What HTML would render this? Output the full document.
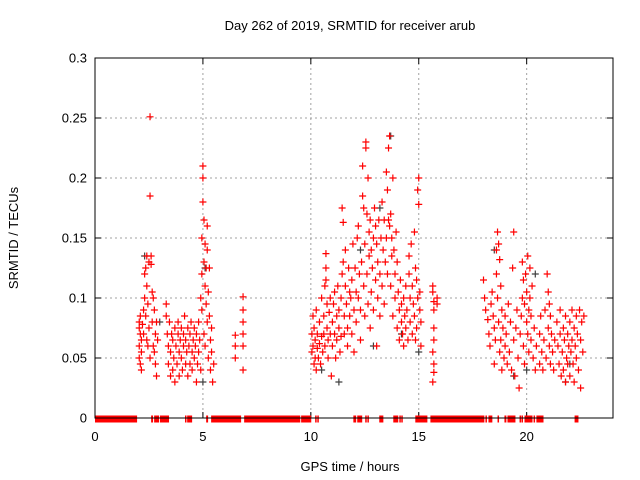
<!DOCTYPE html>
<html><head><meta charset="utf-8">
<style>html,body{margin:0;padding:0;background:#fff}svg{display:block;font-family:"Liberation Sans",sans-serif}</style>
</head><body>
<svg id="chart" width="640" height="480" viewBox="0 0 640 480">
<rect width="640" height="480" fill="#fff"/>
<text x="350" y="30" font-size="13" text-anchor="middle">Day 262 of 2019, SRMTID for receiver arub</text>
<text transform="translate(18,238) rotate(-90)" font-size="13" text-anchor="middle">SRMTID / TECUs</text>
<text x="350" y="471" font-size="13" text-anchor="middle">GPS time / hours</text>
<g id="grid"></g><g id="ticks"></g><g id="marks"></g>
<rect x="95" y="58" width="518" height="360" fill="none" stroke="#000" stroke-width="1"/>
</svg>
<script>
const xTicks = [0,5,10,15,20];
const yTicks = [0,0.05,0.1,0.15,0.2,0.25,0.3];
const yTickLabels = ["0","0.05","0.1","0.15","0.2","0.25","0.3"];
const zeroRanges = [[0,1.95],[2.6,2.69],[2.74,2.97],[3.01,3.43],[4.17,4.22],[4.27,4.5],[5.15,5.24],[5.38,6.77],[6.91,9.51],[9.55,10.02],[10.2,10.2],[10.3,10.3],[11.97,12.1],[12.15,12.38],[12.52,12.52],[12.62,12.62],[13.17,13.36],[13.82,14.05],[14.1,14.1],[14.19,14.19],[14.84,15.4],[15.54,18.04],[18.09,18.09],[18.23,18.41],[18.65,18.65],[18.97,19.06],[19.11,19.48],[19.67,19.67],[19.76,19.76],[19.9,20.27],[20.32,20.32],[20.45,20.78],[22.22,22.4]];
const blackPts = [[3.0,0.08],[5.1,0.125],[5.0,0.03],[10.5,0.04],[11.3,0.03],[12.9,0.06],[13.7,0.235],[14.2,0.07],[15.0,0.055],[18.5,0.14],[19.4,0.035],[20.0,0.04],[21.8,0.03],[22.0,0.045],[12.3,0.14],[13.2,0.175],[20.4,0.12],[2.3,0.135]];
const redPts = [
[2.05,0.08],[2.05,0.075],[2.05,0.06],[2.05,0.05],[2.1,0.045],[2.1,0.07],[2.1,0.085],[2.15,0.065],[2.15,0.055],[2.15,0.04],[2.2,0.078],[2.25,0.09],[2.25,0.07],[2.3,0.1],[2.3,0.12],[2.35,0.125],[2.35,0.085],[2.4,0.135],[2.4,0.11],[2.4,0.065],[2.45,0.095],[2.45,0.06],[2.5,0.13],[2.5,0.075],[2.55,0.251],[2.55,0.185],[2.55,0.05],[2.6,0.135],[2.6,0.128],[2.65,0.105],[2.65,0.08],[2.7,0.06],[2.7,0.1],[2.75,0.09],[2.75,0.055],[2.8,0.07],[2.8,0.045],[2.85,0.035],[2.85,0.08],[2.9,0.065],
[3.3,0.095],[3.3,0.085],[3.35,0.07],[3.4,0.06],[3.4,0.045],[3.45,0.08],[3.5,0.035],[3.5,0.055],[3.55,0.07],[3.6,0.04],[3.6,0.065],[3.65,0.05],[3.7,0.075],[3.7,0.03],[3.75,0.06],[3.8,0.045],[3.85,0.07],[3.85,0.08],[3.9,0.055],[3.9,0.035],[3.95,0.065],[4.0,0.05],[4.0,0.075],[4.05,0.04],[4.1,0.06],[4.1,0.07],[4.15,0.085],[4.2,0.045],[4.2,0.065],[4.25,0.055],[4.3,0.075],[4.3,0.035],[4.35,0.06],[4.4,0.045],[4.4,0.07],[4.45,0.08],[4.5,0.055],[4.5,0.04],[4.55,0.065],[4.6,0.05],[4.6,0.075],[4.65,0.06],[4.7,0.03],[4.7,0.07],[4.75,0.045],[4.8,0.08],[4.8,0.055],[4.85,0.065],[4.9,0.1],[4.9,0.04],[4.95,0.15],[4.95,0.12],[4.95,0.09],[5.0,0.21],[5.0,0.2],[5.0,0.18],[5.05,0.165],[5.05,0.13],[5.05,0.07],[5.1,0.145],[5.1,0.11],[5.1,0.06],[5.15,0.125],[5.15,0.095],[5.2,0.16],[5.2,0.14],[5.2,0.08],[5.25,0.105],[5.25,0.05],[5.3,0.125],[5.3,0.085],[5.35,0.065],[5.35,0.04],[5.4,0.075],[5.4,0.055],[5.45,0.03],[5.5,0.045],
[6.5,0.069],[6.5,0.06],[6.5,0.05],[6.86,0.101],[6.86,0.09],[6.86,0.08],[6.86,0.07],[6.86,0.06],[6.86,0.04],
[10.05,0.07],[10.05,0.055],[10.1,0.085],[10.1,0.06],[10.15,0.045],[10.15,0.075],[10.2,0.05],[10.2,0.065],[10.25,0.04],[10.25,0.09],[10.3,0.058],[10.3,0.07],[10.35,0.05],[10.4,0.08],[10.4,0.062],[10.45,0.045],[10.5,0.1],[10.5,0.068],
[10.55,0.055],[10.6,0.085],[10.6,0.07],[10.65,0.11],[10.65,0.06],[10.7,0.137],[10.7,0.125],[10.7,0.115],[10.75,0.095],[10.75,0.075],[10.8,0.065],[10.8,0.05],[10.85,0.088],[10.9,0.1],[10.9,0.07],[10.95,0.035],[11.0,0.08],[11.0,0.06],[11.05,0.095],[11.1,0.105],[11.1,0.07],[11.15,0.05],[11.2,0.085],[11.2,0.065],[11.25,0.11],[11.3,0.075],[11.3,0.09],[11.35,0.055],[11.4,0.1],[11.4,0.068],[11.45,0.12],[11.45,0.175],[11.5,0.163],[11.5,0.13],[11.55,0.085],[11.55,0.07],
[11.6,0.11],[11.6,0.14],[11.65,0.095],[11.7,0.075],[11.7,0.06],[11.75,0.125],[11.8,0.105],[11.8,0.085],[11.85,0.1],[11.9,0.07],[11.9,0.115],[11.95,0.145],[12.0,0.09],[12.0,0.055],[12.05,0.125],[12.1,0.105],[12.1,0.08],[12.15,0.15],[12.2,0.1],[12.2,0.16],[12.25,0.12],[12.3,0.09],[12.3,0.065],[12.35,0.13],[12.4,0.185],[12.4,0.21],[12.45,0.175],[12.45,0.11],[12.5,0.145],[12.5,0.085],
[12.55,0.23],[12.55,0.225],[12.6,0.17],[12.6,0.12],[12.65,0.2],[12.65,0.095],[12.7,0.155],[12.7,0.135],[12.75,0.165],[12.75,0.075],[12.8,0.14],[12.8,0.105],[12.85,0.125],[12.9,0.15],[12.9,0.09],[12.95,0.175],[13.0,0.16],[13.0,0.115],[13.05,0.145],[13.05,0.06],[13.1,0.13],[13.1,0.1],[13.15,0.165],[13.2,0.12],[13.2,0.085],[13.25,0.15],[13.3,0.18],[13.3,0.11],[13.35,0.14],[13.4,0.165],[13.4,0.095],[13.45,0.13],[13.5,0.205],[13.5,0.15],
[13.55,0.19],[13.55,0.12],[13.6,0.225],[13.6,0.165],[13.65,0.235],[13.65,0.16],[13.7,0.17],[13.7,0.11],[13.75,0.15],[13.75,0.135],[13.8,0.2],[13.8,0.085],[13.85,0.14],[13.9,0.12],[13.9,0.1],[13.95,0.155],[14.0,0.13],[14.0,0.075],[14.05,0.105],[14.1,0.09],[14.1,0.065],[14.15,0.115],[14.2,0.095],[14.2,0.08],[14.25,0.07],[14.3,0.1],[14.3,0.06],[14.35,0.085],[14.4,0.11],[14.4,0.075],[14.45,0.09],[14.5,0.065],
[14.55,0.135],[14.55,0.12],[14.6,0.1],[14.6,0.08],[14.65,0.145],[14.7,0.11],[14.7,0.07],[14.75,0.095],[14.8,0.155],[14.8,0.085],[14.85,0.125],[14.85,0.065],[14.9,0.115],[14.9,0.075],[14.95,0.19],[14.95,0.1],[15.0,0.2],[15.0,0.178],[15.05,0.105],[15.05,0.09],[15.1,0.08],[15.1,0.06],
[15.65,0.11],[15.65,0.105],[15.7,0.097],[15.7,0.09],[15.7,0.075],[15.7,0.065],[15.65,0.055],[15.7,0.045],[15.7,0.038],[15.65,0.03],[15.85,0.095],[15.85,0.1],
[18.0,0.115],[18.05,0.1],[18.1,0.09],[18.2,0.082],[18.25,0.07],[18.3,0.06],[18.35,0.095],[18.4,0.105],[18.45,0.085],[18.5,0.075],[18.5,0.045],[18.55,0.065],[18.6,0.14],[18.6,0.12],[18.65,0.155],[18.65,0.1],[18.7,0.145],[18.7,0.08],[18.75,0.132],[18.75,0.055],[18.8,0.11],[18.8,0.065],[18.85,0.09],[18.85,0.04],[18.9,0.075],[18.95,0.05],[19.0,0.085],[19.0,0.06],[19.05,0.07],[19.1,0.045],[19.15,0.095],[19.2,0.055],[19.25,0.08],[19.3,0.04],[19.35,0.125],[19.4,0.155],[19.4,0.065],[19.45,0.035],[19.5,0.075],[19.55,0.09],[19.6,0.05],[19.65,0.025],[19.7,0.07],[19.75,0.085],
[19.8,0.13],[19.8,0.1],[19.85,0.115],[19.85,0.06],[19.9,0.095],[19.9,0.045],[19.95,0.12],[20.0,0.105],[20.0,0.08],[20.05,0.135],[20.05,0.07],[20.1,0.09],[20.1,0.055],[20.15,0.125],[20.15,0.1],[20.2,0.085],[20.2,0.065],[20.25,0.11],[20.3,0.05],[20.35,0.075],[20.4,0.04],[20.45,0.06],
[20.6,0.07],[20.6,0.045],[20.65,0.085],[20.7,0.055],[20.75,0.04],[20.8,0.065],[20.85,0.09],[20.9,0.05],[20.95,0.12],[21.0,0.105],[21.0,0.075],[21.05,0.095],[21.05,0.06],[21.1,0.085],[21.1,0.045],[21.15,0.07],[21.2,0.055],[21.25,0.04],[21.3,0.065],
[21.4,0.08],[21.45,0.06],[21.5,0.045],[21.55,0.09],[21.55,0.07],[21.6,0.035],[21.65,0.055],[21.7,0.075],[21.7,0.04],[21.75,0.065],[21.8,0.03],[21.8,0.085],[21.85,0.05],[21.9,0.07],[21.9,0.045],[21.95,0.06],[22.0,0.08],[22.0,0.035],[22.05,0.055],[22.1,0.09],[22.1,0.065],[22.15,0.045],[22.2,0.075],[22.2,0.03],[22.25,0.06],[22.3,0.085],[22.3,0.05],[22.35,0.07],[22.4,0.04],[22.45,0.09],[22.5,0.065],[22.5,0.025],[22.55,0.08],[22.6,0.055],[22.65,0.085]
];
const X0=95,X1=613,Y0=418,Y1=58;
function xs(h){return X0+(h/24)*(X1-X0);}
function ys(v){return Y0-(v/0.3)*(Y0-Y1);}
const NS="http://www.w3.org/2000/svg";
function mk(tag,attrs,parent){const e=document.createElementNS(NS,tag);for(const k in attrs)e.setAttribute(k,attrs[k]);parent.appendChild(e);return e;}
const grid=document.getElementById('grid'),ticks=document.getElementById('ticks'),marks=document.getElementById('marks');
yTicks.forEach((v,i)=>{
  const y=ys(v);
  if(i>0&&i<yTicks.length-1){const g=mk('line',{x1:X0,x2:X1,y1:y,y2:y,stroke:'#a0a0a0','stroke-dasharray':'2,3'},grid);
  
  }
  mk('line',{x1:X0,x2:X0+6,y1:y,y2:y,stroke:'#000'},ticks);
  mk('line',{x1:X1-6,x2:X1,y1:y,y2:y,stroke:'#000'},ticks);
  const t=mk('text',{x:X0-8,y:y+4.5,'font-size':'13','text-anchor':'end'},ticks);
  t.textContent=yTickLabels[i];
  
  
});
xTicks.forEach(h=>{
  const x=xs(h);
  if(h>0){const g=mk('line',{x1:x,x2:x,y1:Y1,y2:Y0,stroke:'#a0a0a0','stroke-dasharray':'2,3'},grid);
  
  }
  mk('line',{x1:x,x2:x,y1:Y0,y2:Y0-6,stroke:'#000'},ticks);
  mk('line',{x1:x,x2:x,y1:Y1,y2:Y1+6,stroke:'#000'},ticks);
  const t=mk('text',{x:x,y:Y0+23,'font-size':'13','text-anchor':'middle'},ticks);
  t.textContent=String(h);
  
  
});
function plus(h,v,color,name){
  const x=xs(h),y=ys(v);
  const p=mk('path',{d:`M${x-3.5},${y}H${x+3.5}M${x},${y-3.5}V${y+3.5}`,stroke:color,'stroke-width':'1.2',fill:'none'},marks);
  
  
}
blackPts.forEach(d=>plus(d[0],d[1],'#404040','point-black'));
redPts.forEach(d=>plus(d[0],d[1],'#ff0000','point-red'));
zeroRanges.forEach(r=>{
  const a=xs(r[0]),b=Math.max(xs(r[1]),a+1.5);
  const z=mk('rect',{x:a,y:Y0-2.5,width:b-a,height:7,fill:'#ff0000'},marks);
  
  
});
</script>
</body></html>
